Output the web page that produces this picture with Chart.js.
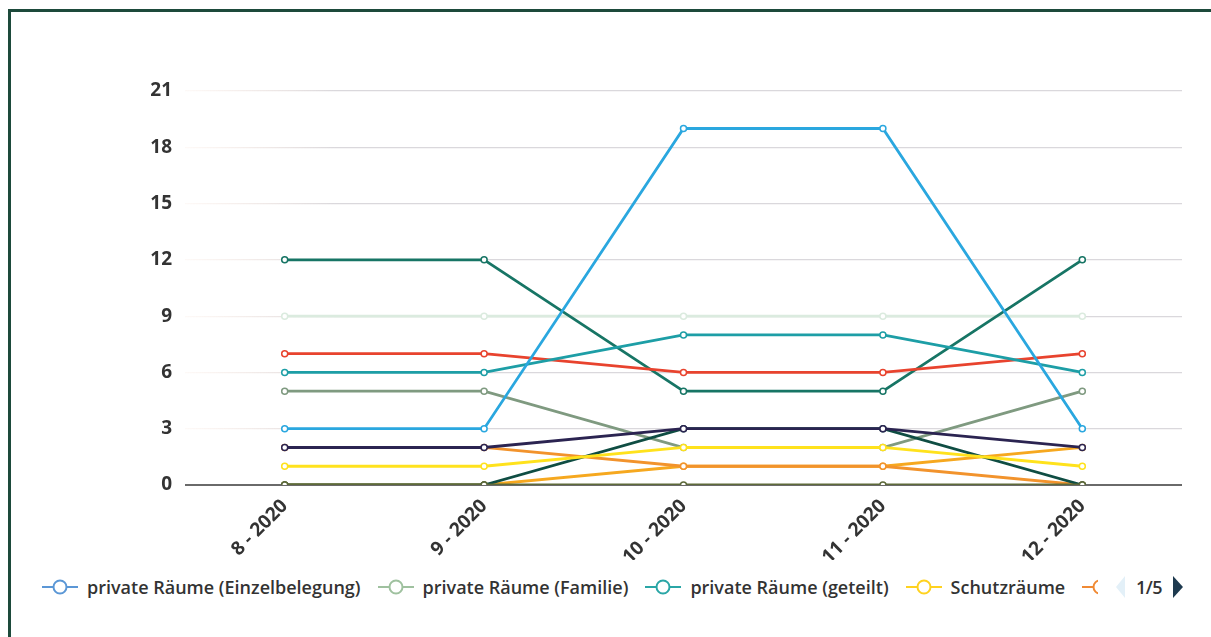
<!DOCTYPE html>
<html>
<head>
<meta charset="utf-8">
<script src="https://cdn.jsdelivr.net/npm/chart.js@4"></script>
<style>
  body { margin: 0; background: #fff; font-family: "Open Sans", sans-serif; }
  #frame { position: absolute; left: 8px; top: 9px; width: 1300px; height: 700px;
           border-top: 3px solid #1d4a3b; border-left: 3px solid #1d4a3b; }
  #chart { position: absolute; left: 0; top: 0; width: 1211px; height: 560px; }
  #legend { position: absolute; left: 42px; top: 572px; width: 1056px; height: 30px;
            overflow: hidden; white-space: nowrap; font-size: 18px; font-weight: 600; color: #333; }
  .item { display: inline-flex; align-items: center; margin-right: 17px; height: 30px; }
  .item svg { margin-right: 9px; }
  #pager { position: absolute; left: 1114px; top: 572px; height: 30px; display: flex; align-items: center;
           font-size: 18px; font-weight: 600; color: #333; letter-spacing: -0.5px; }
</style>
</head>
<body>
<div id="frame"></div>
<div id="chart"><canvas id="myChart"></canvas></div>
<div id="legend"></div>
<div id="pager"></div>
<script>
// months on the x axis
const months = ["8 - 2020", "9 - 2020", "10 - 2020", "11 - 2020", "12 - 2020"];
const yTicks = [0, 3, 6, 9, 12, 15, 18, 21];

const einzelbelegung = [3, 3, 19, 19, 3];
const familie = [5, 5, 2, 2, 5];
const geteilt = [6, 6, 8, 8, 6];
const schutzraeume = [1, 1, 2, 2, 1];
const serie5 = [2, 2, 1, 1, 0];
const serie6 = [0, 0, 1, 1, 2];
const serie7 = [7, 7, 6, 6, 7];
const serie8 = [12, 12, 5, 5, 12];
const serie9 = [2, 2, 3, 3, 2];
const serie10 = [0, 0, 3, 3, 0];
const serie11 = [9, 9, 9, 9, 9];
const serie12 = [0, 0, 0, 0, 0];

const seriesNames = ["private Räume (Einzelbelegung)", "private Räume (Familie)", "private Räume (geteilt)",
  "Schutzräume", "Kategorie 5", "Kategorie 6", "Kategorie 7", "Kategorie 8", "Kategorie 9",
  "Kategorie 10", "Kategorie 11", "Kategorie 12"];
const seriesData = [einzelbelegung, familie, geteilt, schutzraeume, serie5, serie6, serie7,
  serie8, serie9, serie10, serie11, serie12];
const lineColors = ["#2aa7df", "#7f9a80", "#1d9ea6", "#ffe21c", "#f2932c", "#f6a81f", "#e8432e",
  "#177565", "#2b2451", "#0f4d43", "#dbebdf", "#5e6a3a"];
// lower number = drawn on top
const drawOrder = [1, 6, 3, 2, 5, 5, 3, 4, 1, 2, 6, 0];
const legendColors = ["#5b97d6", "#9fc19f", "#2aa6a6", "#ffd21f", "#f08a34"];
const legendPage = "1/5";

let datasets = seriesData.map(function(d, i){
    return {
        label: seriesNames[i],
        data: d,
        borderColor: lineColors[i],
        backgroundColor: "#fff",
        borderWidth: 2.8,
        pointRadius: 3,
        pointBorderWidth: 1.5,
        pointBackgroundColor: "#fff",
        pointBorderColor: lineColors[i],
        tension: 0,
        order: drawOrder[i]
    };
});

function gridColor(ctx){
    if (ctx.tick && ctx.tick.value === 0) return "#6a6a6a";
    const area = ctx.chart.chartArea;
    if (!area) return "#dcdcdf";
    const g = ctx.chart.ctx.createLinearGradient(area.left, 0, area.left + 150, 0);
    g.addColorStop(0, "rgba(245,225,215,0.2)");
    g.addColorStop(1, "#dad8dc");
    return g;
}

new Chart("myChart", {
    type: "line",
    data: { labels: months, datasets: datasets },
    options: {
        responsive: true,
        maintainAspectRatio: false,
        animation: false,
        layout: { padding: { top: 91, right: 29, left: 0, bottom: 0 } },
        scales: {
            x: {
                offset: true,
                grid: { display: false },
                border: { display: false },
                ticks: { maxRotation: 45, minRotation: 45, padding: 2, color: "#333",
                         font: { family: "Open Sans", size: 19, weight: "bold" } },
                afterFit: function(scale){ scale.height = 75; }
            },
            y: {
                min: 0,
                max: 21,
                afterBuildTicks: function(scale){ scale.ticks = yTicks.map(v => ({ value: v })); },
                grid: { drawTicks: false, color: gridColor, lineWidth: ctx => (ctx.tick && ctx.tick.value === 0 ? 2 : 1.2) },
                border: { display: false },
                ticks: { padding: 13, color: "#333", font: { family: "Open Sans", size: 19, weight: "bold" } },
                afterFit: function(scale){ scale.width = 185; }
            }
        },
        plugins: {
            legend: { display: false },
            tooltip: { enabled: false }
        }
    }
});

// legend like the original, with paging
function marker(color){
    return '<svg width="36" height="16"><line x1="0" y1="8" x2="36" y2="8" stroke="' + color +
        '" stroke-width="2"/><circle cx="18" cy="8" r="6.5" fill="#fff" stroke="' + color + '" stroke-width="2"/></svg>';
}
let html = "";
for (let i = 0; i < legendColors.length; i++) {
    html += '<span class="item">' + marker(legendColors[i]) + '<span>' + seriesNames[i] + '</span></span>';
}
document.getElementById("legend").innerHTML = html;
document.getElementById("pager").innerHTML =
    '<svg width="14" height="24"><polygon points="11,1 11,23 2,12" fill="#e3f0f8"/></svg>' +
    '<span style="margin:0 9px 0 8px">' + legendPage + '</span>' +
    '<svg width="14" height="24"><polygon points="2,1 2,23 12,12" fill="#1e3a4f"/></svg>';
</script>
</body>
</html>
